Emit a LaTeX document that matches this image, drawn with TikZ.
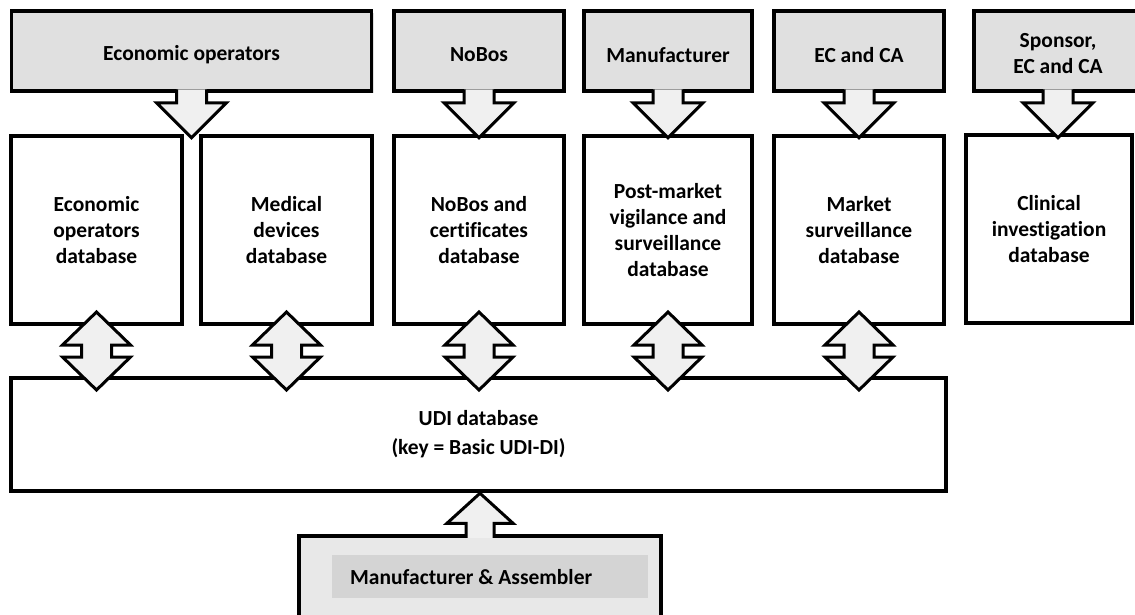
\documentclass[tikz,border=0pt]{standalone}
\usepackage{fontspec}
\setmainfont[Ligatures=NoCommon]{Carlito}
\usetikzlibrary{calc,shadows}
\newcommand\lblfont{\fontsize{21.5}{26}\selectfont\bfseries}
\newcommand\lowtext[1]{\raisebox{-4pt}[\height][\depth]{#1}}
\tikzset{
  boxbase/.style={draw=black, line width=3.5pt, inner sep=0pt, align=center, font=\lblfont,
    drop shadow={opacity=0.25, shadow xshift=2pt, shadow yshift=-2pt}},
  topbox/.style={boxbase, fill=black!12, minimum height=80pt},
  dbbox/.style={boxbase, fill=white, minimum height=188pt},
  arrowfill/.style={fill=black!6},
  arrowline/.style={draw=black, line width=3pt, line join=miter},
  innerbox/.style={fill=black!17, inner sep=0pt},
  plainlbl/.style={font=\lblfont, inner sep=0pt}
}
\newcommand\DownArr[1]{%
  \fill[arrowfill] ($(#1.south)+(-15,-3.5)$) -- ($(#1.south)+(-15,10)$) -- ($(#1.south)+(-35,10)$)
     -- ($(#1.south)+(0,45)$) -- ($(#1.south)+(35,10)$) -- ($(#1.south)+(15,10)$) -- ($(#1.south)+(15,-3.5)$) -- cycle;
  \draw[arrowline] ($(#1.south)+(-15,-3.5)$) -- ($(#1.south)+(-15,10)$) -- ($(#1.south)+(-35,10)$)
     -- ($(#1.south)+(0,45)$) -- ($(#1.south)+(35,10)$) -- ($(#1.south)+(15,10)$) -- ($(#1.south)+(15,-3.5)$);
}
\newcommand\DblArr[2]{%
  \coordinate (c) at ($(#1.south)!0.5!(#1.south |- #2.north)$);
  \filldraw[arrowfill, arrowline] ($(c)+(0,-39)$) -- ($(c)+(34,-6)$) -- ($(c)+(15,-6)$) -- ($(c)+(15,6)$)
     -- ($(c)+(34,6)$) -- ($(c)+(0,39)$) -- ($(c)+(-34,6)$) -- ($(c)+(-15,6)$) -- ($(c)+(-15,-6)$)
     -- ($(c)+(-34,-6)$) -- cycle;
}
\newcommand\UpArr[1]{%
  \fill[arrowfill] ($(#1.north)+(-14,3.5)$) -- ($(#1.north)+(-14,-11)$) -- ($(#1.north)+(-33,-11)$)
     -- ($(#1.north)+(0,-41)$) -- ($(#1.north)+(33,-11)$) -- ($(#1.north)+(14,-11)$) -- ($(#1.north)+(14,3.5)$) -- cycle;
  \draw[arrowline] ($(#1.north)+(-14,3.5)$) -- ($(#1.north)+(-14,-11)$) -- ($(#1.north)+(-33,-11)$)
     -- ($(#1.north)+(0,-41)$) -- ($(#1.north)+(33,-11)$) -- ($(#1.north)+(14,-11)$) -- ($(#1.north)+(14,3.5)$);
}
\begin{document}
\begin{tikzpicture}[x=1pt,y=-1pt]
\useasboundingbox (0,0) rectangle (1135,614);
\clip (0,0) rectangle (1135,614);
% top gray boxes
\node[topbox, minimum width=360pt] (tEO) at (191.5,51) {\lowtext{Economic operators}};
\node[topbox, minimum width=170pt] (tNB) at (479,51) {\lowtext{NoBos}};
\node[topbox, minimum width=168pt] (tMF) at (668,51) {\lowtext{Manufacturer}};
\node[topbox, minimum width=170pt] (tEC) at (859,51) {\lowtext{EC and CA}};
\node[topbox, minimum width=168pt] (tSP) at (1058,51) {\lowtext{\begin{tabular}{@{}c@{}}Sponsor,\\EC and CA\end{tabular}}};
% database boxes
\node[dbbox, minimum width=171pt] (mEO) at (96.5,230) {Economic\\operators\\database};
\node[dbbox, minimum width=171pt] (mMD) at (286.5,230) {Medical\\devices\\database};
\node[dbbox, minimum width=170pt] (mNB) at (479,230) {NoBos and\\certificates\\database};
\node[dbbox, minimum width=168pt] (mPM) at (668,230) {Post-market\\vigilance and\\surveillance\\database};
\node[dbbox, minimum width=170pt] (mMS) at (859,230) {Market\\surveillance\\database};
\node[dbbox, minimum width=166pt] (mCI) at (1049,229) {Clinical\\investigation\\database};
% UDI
\node[boxbase, fill=white, minimum width=935pt, minimum height=113pt, font=\fontsize{21.5}{29}\selectfont\bfseries] (udi) at (478.5,434.5) {UDI database\\(key = Basic UDI-DI)};
% bottom box
\node[topbox, fill=black!9, minimum width=362pt, minimum height=92pt] (bMA) at (480,582) {};
\node[innerbox, minimum width=316pt, minimum height=43pt] (bIn) at (490,576.5) {};
\node[plainlbl, anchor=west] (bLbl) at (350,577) {Manufacturer \& Assembler};
% arrows
\DownArr{tEO}
\DownArr{tNB}
\DownArr{tMF}
\DownArr{tEC}
\DownArr{tSP}
\DblArr{mEO}{udi}
\DblArr{mMD}{udi}
\DblArr{mNB}{udi}
\DblArr{mPM}{udi}
\DblArr{mMS}{udi}
\UpArr{bMA}
\end{tikzpicture}
\end{document}
